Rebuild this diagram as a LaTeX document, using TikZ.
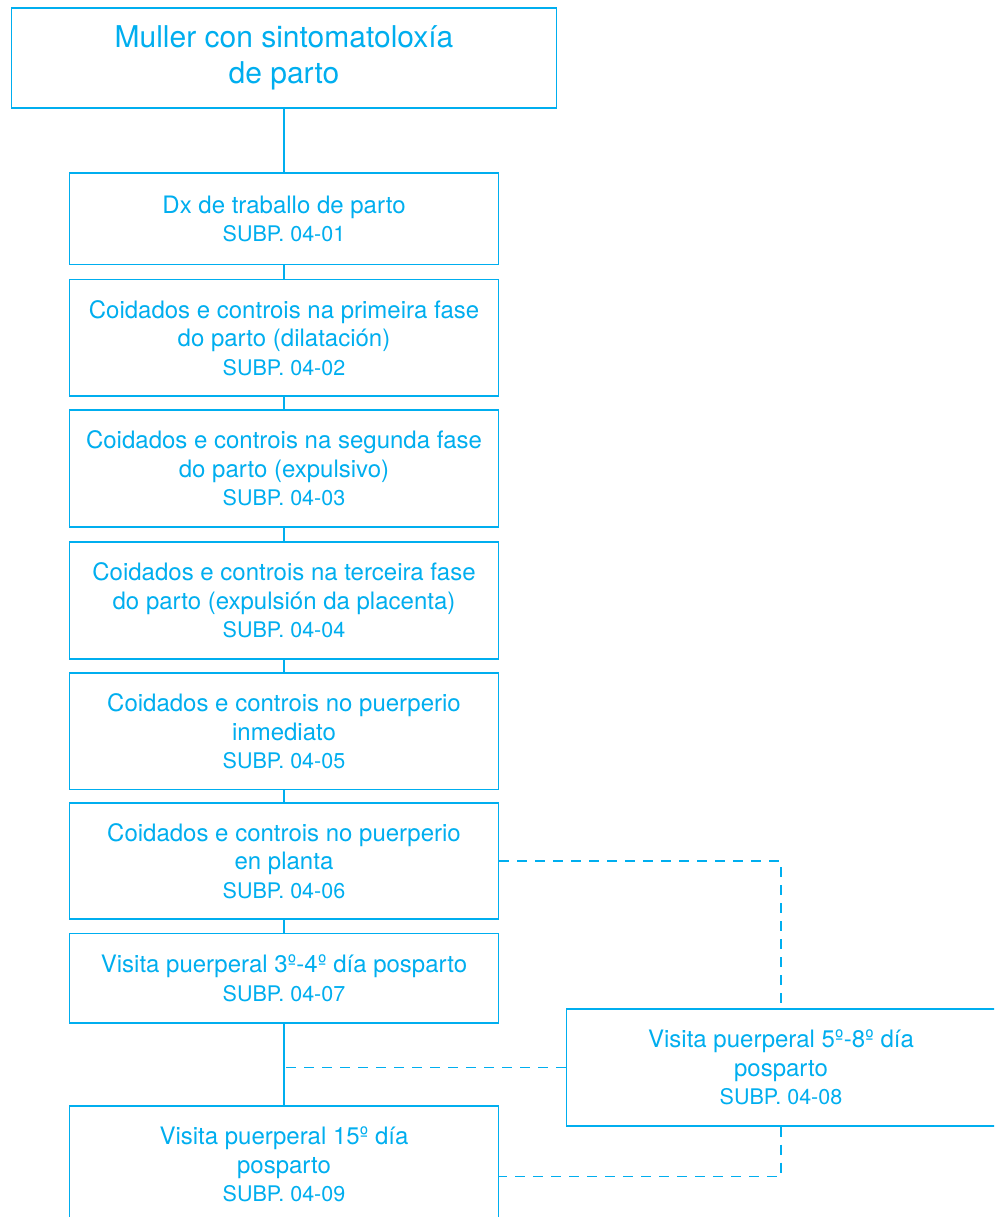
\documentclass[tikz,border=0pt]{standalone}
\usepackage{fontspec}
\setmainfont{TeX Gyre Heros}
\usetikzlibrary{calc}
\definecolor{cy}{RGB}{0,174,239}
\newcommand\subpline[1]{{\fontsize{21.5}{28.5}\selectfont SUBP. #1}}
\tikzset{
  boxnode/.style={draw=cy, line width=1.4pt, minimum width=429pt, inner sep=0pt,
    align=center, text=cy, font=\fontsize{24}{28.5}\selectfont},
  conn/.style={draw=cy, line width=1.4pt},
  dashline/.style={draw=cy, line width=1.4pt, dash pattern=on 10pt off 8pt}
}
\begin{document}
\begin{tikzpicture}[x=1pt,y=-1pt]
\useasboundingbox (0,0) rectangle (994,1217);
\clip (0,0) rectangle (994,1217);
\fill[white] (0,0) rectangle (994,1217);
\node[boxnode, minimum width=545pt, minimum height=100pt, font=\fontsize{30}{36}\selectfont] (top) at (284,58)
  {Muller con sintomatoloxía\\de parto};
\node[boxnode, minimum height=91.5pt] (b1) at (284,218.75)
  {Dx de traballo de parto\\\subpline{04-01}};
\node[boxnode, minimum height=116.5pt] (b2) at (284,337.75)
  {Coidados e controis na primeira fase\\do parto (dilatación)\\\subpline{04-02}};
\node[boxnode, minimum height=117pt] (b3) at (284,468.5)
  {Coidados e controis na segunda fase\\do parto (expulsivo)\\\subpline{04-03}};
\node[boxnode, minimum height=117pt] (b4) at (284,600.5)
  {Coidados e controis na terceira fase\\do parto (expulsión da placenta)\\\subpline{04-04}};
\node[boxnode, minimum height=116.5pt] (b5) at (284,731.25)
  {Coidados e controis no puerperio\\inmediato\\\subpline{04-05}};
\node[boxnode, minimum height=116pt] (b6) at (284,861)
  {Coidados e controis no puerperio\\en planta\\\subpline{04-06}};
\node[boxnode, minimum height=89.5pt] (b7) at (284,978.25)
  {Visita puerperal 3º-4º día posparto\\\subpline{04-07}};
\node[boxnode, minimum height=117pt] (b8) at (781,1067.5)
  {Visita puerperal 5º-8º día\\posparto\\\subpline{04-08}};
\node[boxnode, minimum height=117pt] (b9) at (284,1164.5)
  {Visita puerperal 15º día\\posparto\\\subpline{04-09}};
\draw[conn] (top) -- (b1);
\draw[conn] (b1) -- (b2);
\draw[conn] (b2) -- (b3);
\draw[conn] (b3) -- (b4);
\draw[conn] (b4) -- (b5);
\draw[conn] (b5) -- (b6);
\draw[conn] (b6) -- (b7);
\draw[conn] (b7) -- (b9);
\coordinate (mj) at (b8.west -| b7.south);
\path (b9.north east) ++(0,71) coordinate (c9);
\draw[dashline] (b6.east) -| (b8.north);
\draw[dashline] (b8.west) -- (mj);
\draw[dashline] (b8.south) |- (c9);
\end{tikzpicture}
\end{document}
